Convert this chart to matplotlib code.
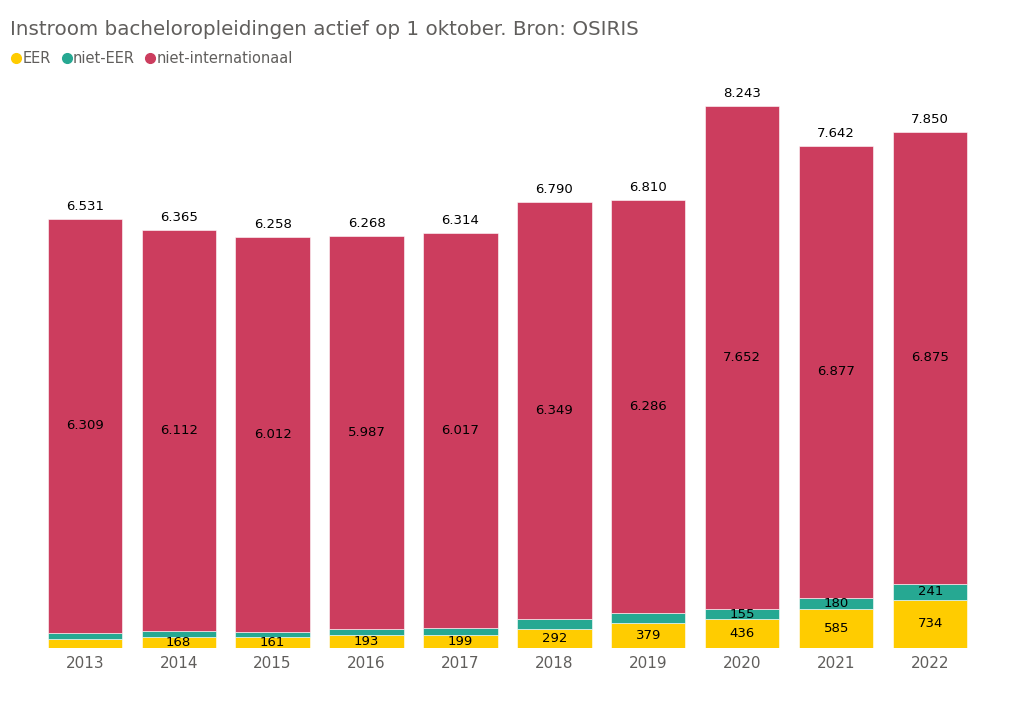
import matplotlib
matplotlib.use("Agg")
import matplotlib.pyplot as plt
from matplotlib.lines import Line2D

years = ["2013", "2014", "2015", "2016", "2017", "2018", "2019", "2020", "2021", "2022"]
eer = [140, 168, 161, 193, 199, 292, 379, 436, 585, 734]
niet_eer = [82, 85, 85, 88, 98, 149, 145, 155, 180, 241]
niet_int = [6309, 6112, 6012, 5987, 6017, 6349, 6286, 7652, 6877, 6875]
totals = [6531, 6365, 6258, 6268, 6314, 6790, 6810, 8243, 7642, 7850]

c_eer = "#FFCC00"
c_neer = "#26A892"
c_nint = "#CC3D5E"

def fmt(v):
    return f"{v:,}".replace(",", ".")

plt.rcParams['font.family'] = ['DejaVu Sans']
fig = plt.figure(figsize=(10.2, 7.08), dpi=100)
ax = fig.add_axes([0.037, 0.085, 0.921, 0.80])

x = list(range(len(years)))
w = 0.79
ax.bar(x, eer, w, color=c_eer, edgecolor="white", linewidth=0.4)
bot2 = eer
ax.bar(x, niet_eer, w, bottom=bot2, color=c_neer, edgecolor="white", linewidth=0.4)
bot3 = [a + b for a, b in zip(eer, niet_eer)]
ax.bar(x, niet_int, w, bottom=bot3, color=c_nint, edgecolor="white", linewidth=0.4)

fs = 9.5
for i in x:
    if eer[i] >= 150:
        ax.text(i, eer[i] / 2, fmt(eer[i]), ha="center", va="center", fontsize=fs, color="black")
    if niet_eer[i] >= 150:
        ax.text(i, eer[i] + niet_eer[i] / 2, fmt(niet_eer[i]), ha="center", va="center", fontsize=fs, color="black")
    ax.text(i, bot3[i] + niet_int[i] / 2, fmt(niet_int[i]), ha="center", va="center", fontsize=fs, color="black")
    ax.text(i, totals[i] + 90, fmt(totals[i]), ha="center", va="bottom", fontsize=fs, color="black")

ax.set_xlim(-0.5, len(years) - 0.5)
ax.set_ylim(0, 8620)
ax.set_xticks(x)
ax.set_xticklabels(years, fontsize=11, color="#605E5C")
ax.tick_params(axis="x", length=0, pad=6)
ax.set_yticks([])
for s in ax.spines.values():
    s.set_visible(False)

fig.text(0.01, 0.958, "Instroom bacheloropleidingen actief op 1 oktober. Bron: OSIRIS",
         fontsize=14.3, color="#605E5C", ha="left", va="center")

handles = [Line2D([], [], marker="o", linestyle="", markersize=7, color=c) for c in (c_eer, c_neer, c_nint)]
fig.legend(handles, ["EER", "niet-EER", "niet-internationaal"], loc="center left",
           bbox_to_anchor=(-0.004, 0.917), ncol=3, frameon=False, handletextpad=-0.1,
           columnspacing=0.6, handlelength=1.0, fontsize=10.5, labelcolor="#605E5C")

fig.savefig("out.png", dpi=100, facecolor="white")
